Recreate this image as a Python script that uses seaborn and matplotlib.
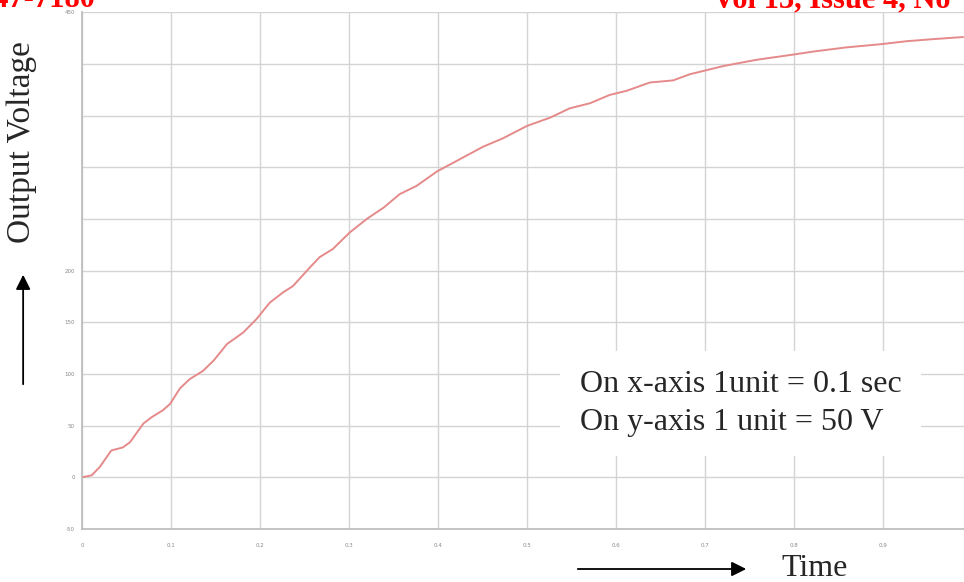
import numpy as np
import matplotlib
matplotlib.use('Agg')
import matplotlib.pyplot as plt
import seaborn as sns
import pandas as pd

# values (time in s, output voltage in V)
time = [0.0, 0.011, 0.02, 0.033, 0.046, 0.054, 0.069, 0.078, 0.091, 0.099,
        0.11, 0.121, 0.136, 0.148, 0.163, 0.181, 0.196, 0.211, 0.226, 0.237,
        0.256, 0.267, 0.282, 0.301, 0.32, 0.339, 0.357, 0.376, 0.399, 0.425,
        0.451, 0.473, 0.5, 0.526, 0.548, 0.571, 0.593, 0.612, 0.638, 0.664,
        0.683, 0.721, 0.758, 0.799, 0.822, 0.859, 0.897, 0.927, 0.957, 0.99]
voltage = [0, 2, 10, 26, 29, 34, 52, 58, 65, 71,
           86, 95, 103, 113, 129, 140, 153, 169, 179, 185,
           203, 213, 221, 237, 250, 261, 274, 282, 296, 308,
           320, 328, 340, 348, 357, 362, 370, 374, 382, 384,
           390, 398, 404, 409, 412, 416, 419, 422, 424, 426]

x_ticks = [0, 0.1, 0.2, 0.3, 0.4, 0.5, 0.6, 0.7, 0.8, 0.9]
x_labels = ['0', '0.1', '0.2', '0.3', '0.4', '0.5', '0.6', '0.7', '0.8', '0.9']
y_ticks = [-50, 0, 50, 100, 150, 200, 250, 300, 350, 400, 450]
y_labels = ['-50', '0', '50', '100', '150', '200', '', '', '', '', '450']

df = pd.DataFrame({'Time': time, 'Voltage': voltage})

sns.set_style('white')
plt.rcParams['font.family'] = ['Liberation Serif', 'DejaVu Serif']

fig = plt.figure(figsize=(9.64, 5.82), dpi=100)
ax = fig.add_axes([0.085, 0.091, 0.915, 0.888])

sns.lineplot(data=df, x='Time', y='Voltage', ax=ax, color='#e58a8a', linewidth=1.4)

ax.set_xlim(0, 0.991)
ax.set_ylim(-50, 450)
ax.set_xticks(x_ticks)
ax.set_xticklabels(x_labels, fontsize=4, color='#888888', family='DejaVu Sans')
ax.set_yticks(y_ticks)
ax.set_yticklabels(y_labels, fontsize=4, color='#888888', family='DejaVu Sans')
ax.tick_params(axis='x', direction='in', length=3, color='#999999', pad=10)
ax.tick_params(axis='y', direction='in', length=3, color='#999999', pad=5)
ax.grid(True, color='#d4d4d4', linewidth=1.0)
ax.set_xlabel('')
ax.set_ylabel('')
for s in ['top', 'right']:
    ax.spines[s].set_visible(False)
for s in ['left', 'bottom']:
    ax.spines[s].set_color('#bbbbbb')
    ax.spines[s].set_linewidth(1.2)

# note box
ax.text(0.5646, 0.243, 'On x-axis 1unit = 0.1 sec\nOn y-axis 1 unit = 50 V',
        transform=ax.transAxes, fontsize=23, linespacing=1.38, va='center', ha='left',
        bbox=dict(facecolor='white', edgecolor='none', pad=14))

# axis names with arrows
fig.text(0.023, 0.756, 'Output Voltage', rotation=90, fontsize=24, ha='center', va='center')
fig.text(0.811, 0.024, 'Time', fontsize=23, ha='left', va='center')
fig.add_artist(matplotlib.patches.FancyArrowPatch(
    (0.024, 1 - 387 / 582), (0.024, 1 - 272 / 582), transform=fig.transFigure,
    arrowstyle='-|>', mutation_scale=22, color='black', linewidth=1.3))
fig.add_artist(matplotlib.patches.FancyArrowPatch(
    (575 / 964, 1 - 569 / 582), (749 / 964, 1 - 569 / 582), transform=fig.transFigure,
    arrowstyle='-|>', mutation_scale=22, color='black', linewidth=1.3))

# journal header, cut off at the top like the scan
fig.text(0.099, 1 - 7 / 582, '2347-7180', fontsize=22, fontweight='bold', color='red',
         ha='right', va='baseline')
fig.text(0.74, 1 - 7 / 582, 'Vol 13, Issue 4, No', fontsize=22, fontweight='bold', color='red',
         ha='left', va='baseline')

plt.savefig('out.png', dpi=100)
